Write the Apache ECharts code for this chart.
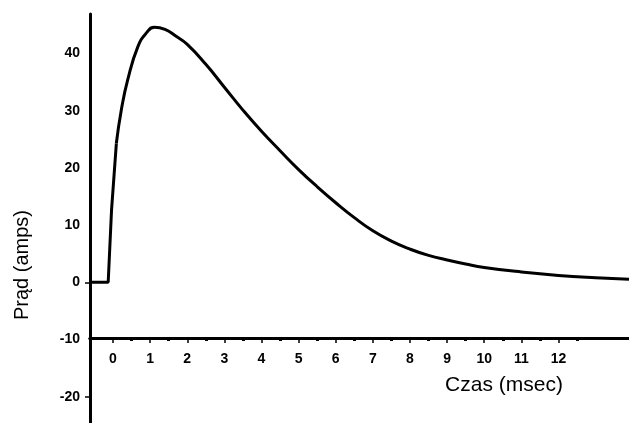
<!DOCTYPE html>
<html>
<head>
<meta charset="utf-8">
<script src="https://cdn.jsdelivr.net/npm/echarts@6/dist/echarts.min.js"></script>
<style>
html,body{margin:0;padding:0;background:#fff;}
#chart{width:629px;height:423px;}
</style>
</head>
<body>
<div id="chart"></div>
<script>
// Data
const riseTime = [-0.62, -0.13, -0.04, 0.09];
const riseAmps = [0, 0, 12.6, 24.3];
const decayTime = [0.09, 0.22, 0.40, 0.67, 0.90, 1.12, 1.40, 1.70, 2.00, 2.50, 3.00, 3.50, 4.00, 4.50, 5.00, 5.50, 6.00, 6.50, 7.00, 7.50, 8.00, 8.50, 9.00, 9.50, 10.00, 11.00, 12.00, 13.00, 13.90];
const decayAmps = [24.3, 30.0, 35.5, 41.2, 43.6, 44.6, 44.2, 43.0, 41.6, 38.1, 34.1, 30.1, 26.4, 23.0, 19.7, 16.7, 13.9, 11.3, 9.0, 7.2, 5.8, 4.7, 3.9, 3.2, 2.6, 1.8, 1.2, 0.8, 0.55];
const xTickLabels = [0, 1, 2, 3, 4, 5, 6, 7, 8, 9, 10, 11, 12];
const xHalfTicks = [0.5, 1.5, 2.5, 3.5, 4.5, 5.5, 6.5, 7.5, 8.5, 9.5, 10.5, 11.5, 12.5];
const yTickLabels = [-20, -10, 0, 10, 20, 30, 40];
const yTickMarks = [0, -20];
const yTitle = 'Prąd (amps)';
const xTitle = 'Czas (msec)';

const FONT = "'Liberation Sans', Arial, Helvetica, sans-serif";
const X_MIN = -0.62, X_MAX = 13.9;

const chart = echarts.init(document.getElementById('chart'), null, {renderer: 'canvas'});
chart.setOption({
  backgroundColor: '#fff',
  animation: false,
  grid: [
    {left: 90, right: 0, top: 14, bottom: 0},
    {left: 90, right: 0, top: 337, height: 1}
  ],
  xAxis: [
    {gridIndex: 0, type: 'value', min: X_MIN, max: X_MAX, show: false},
    {
      gridIndex: 1, type: 'value', min: X_MIN, max: X_MAX, position: 'bottom',
      axisLine: {show: true, onZero: false, lineStyle: {color: '#000', width: 3}},
      axisTick: {show: true, customValues: xTickLabels, length: 5, lineStyle: {color: '#000', width: 1.5}},
      axisLabel: {show: true, customValues: xTickLabels, margin: 14, color: '#000', fontSize: 14, fontWeight: 'bold', fontFamily: FONT},
      splitLine: {show: false}
    },
    {
      gridIndex: 1, type: 'value', min: X_MIN, max: X_MAX, position: 'bottom', offset: 0,
      axisLine: {show: true, onZero: false, lineStyle: {color: '#000', width: 3}},
      axisTick: {show: true, customValues: xHalfTicks, length: 3, lineStyle: {color: '#000', width: 3}},
      axisLabel: {show: false},
      splitLine: {show: false}
    }
  ],
  yAxis: [
    {
      gridIndex: 0, type: 'value', min: -24.6, max: 46.9,
      axisLine: {show: true, onZero: false, lineStyle: {color: '#000', width: 3}},
      axisTick: {show: true, customValues: yTickMarks, length: 5, lineStyle: {color: '#000', width: 1.5}},
      axisLabel: {show: true, customValues: yTickLabels, margin: 10, color: '#000', fontSize: 14, fontWeight: 'bold', fontFamily: FONT},
      splitLine: {show: false}
    },
    {gridIndex: 1, type: 'value', min: 0, max: 1, show: false}
  ],
  series: [
    {
      type: 'line', xAxisIndex: 0, yAxisIndex: 0, symbol: 'none', smooth: false,
      data: riseTime.map((t, i) => [t, riseAmps[i]]),
      lineStyle: {color: '#000', width: 3}
    },
    {
      type: 'line', xAxisIndex: 0, yAxisIndex: 0, symbol: 'none', smooth: 0.5,
      data: decayTime.map((t, i) => [t, decayAmps[i]]),
      lineStyle: {color: '#000', width: 3}
    }
  ],
  graphic: [
    {type: 'text', x: 22, y: 265, rotation: Math.PI / 2,
     style: {text: yTitle, fill: '#000', font: '20px ' + FONT, textAlign: 'center', textVerticalAlign: 'middle'}},
    {type: 'text', x: 504, y: 385,
     style: {text: xTitle, fill: '#000', font: '21px ' + FONT, textAlign: 'center', textVerticalAlign: 'middle'}}
  ]
});
</script>
</body>
</html>
